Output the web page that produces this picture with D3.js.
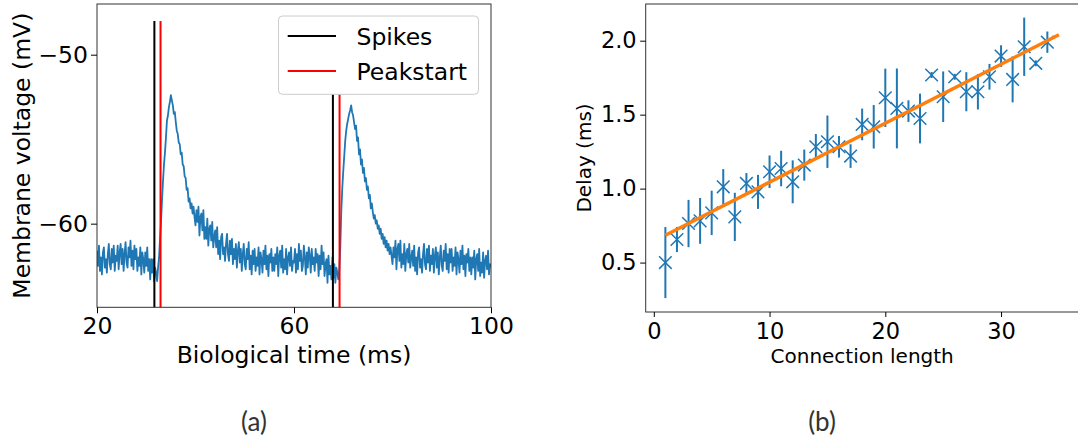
<!DOCTYPE html>
<html>
<head>
<meta charset="utf-8">
<script src="https://cdn.jsdelivr.net/npm/d3@7"></script>
<style>
    body { margin: 0; padding: 0; background: #fff; }
    svg { display: block; font-family: 'DejaVu Sans', sans-serif; }
</style>
</head>
<body>
<div id="main"></div>
<script>
// ---- panel (a): membrane voltage trace, one sample every 0.2 ms from 20 ms
const traceStart = 20;
const traceStep = 0.2;
const traceValues = [
    -61.6, -62.5, -61.3, -62.8, -62.0, -63.0, -61.7, -61.4, -62.6, -62.1, -62.9, -61.8, -61.2, -62.4, -62.7, -61.5, -62.3, -61.3, -62.8, -61.9,
    -62.2, -61.3, -62.7, -61.7, -61.2, -62.4, -61.5, -62.8, -61.8, -61.1, -62.3, -62.6, -61.4, -62.0, -61.0, -62.5, -61.6, -62.7, -61.3, -62.1,
    -61.5, -62.8, -62.0, -62.5, -61.4, -63.0, -61.7, -62.1, -62.9, -61.7, -62.5, -61.4, -62.8, -62.1, -63.3, -62.1, -62.9, -62.1, -63.4, -62.6,
    -62.9, -63.4, -62.6, -62.0, -60.9, -59.9, -58.6, -57.5, -56.5, -55.8, -54.9, -53.9, -53.6, -53.1, -52.8, -52.4, -52.7, -53.0, -53.5, -53.4,
    -54.0, -54.5, -54.7, -55.2, -55.3, -55.9, -55.8, -56.5, -56.6, -57.2, -57.3, -58.0, -57.9, -58.7, -58.5, -59.1, -58.8, -59.4, -59.0, -59.6,
    -60.1, -59.2, -59.9, -59.0, -60.7, -59.6, -59.4, -60.4, -59.2, -60.9, -60.2, -60.9, -59.7, -61.3, -60.3, -60.1, -61.0, -59.9, -61.4, -60.8,
    -60.4, -61.4, -60.2, -61.8, -61.0, -62.1, -60.8, -60.6, -61.8, -61.4, -62.2, -61.2, -60.6, -61.8, -62.2, -61.0, -61.8, -60.9, -62.4, -61.5,
    -62.1, -61.2, -62.6, -61.6, -61.1, -62.3, -61.5, -62.8, -61.8, -61.2, -62.4, -62.7, -61.5, -62.1, -61.1, -62.7, -61.9, -63.0, -61.6, -62.4,
    -61.5, -62.8, -62.0, -62.5, -61.4, -63.0, -61.7, -62.1, -62.9, -61.6, -62.4, -61.3, -62.7, -61.9, -63.1, -61.8, -62.3, -61.5, -62.8, -62.0,
    -62.8, -61.8, -62.4, -61.4, -63.1, -61.9, -61.6, -62.6, -61.3, -62.9, -62.1, -62.7, -61.5, -63.0, -62.0, -61.7, -62.5, -61.4, -62.8, -62.2,
    -62.3, -61.5, -62.9, -61.8, -62.7, -61.2, -62.2, -61.6, -62.8, -62.5, -61.3, -62.0, -63.0, -61.7, -62.6, -61.4, -61.9, -62.9, -61.5, -62.4,
    -62.0, -62.8, -61.5, -62.3, -61.8, -63.1, -61.9, -62.7, -61.3, -62.4, -61.7, -63.1, -62.4, -62.1, -63.5, -61.9, -63.0, -62.5, -63.3, -62.0,
    -63.2, -62.4, -63.5, -62.6, -62.9, -63.3, -62.7, -61.4, -59.3, -57.9, -56.9, -56.0, -55.1, -54.5, -54.1, -53.8, -53.5, -53.3, -53.0, -53.4,
    -53.6, -54.0, -54.4, -54.2, -55.1, -54.9, -55.9, -55.6, -56.5, -56.2, -57.0, -56.7, -57.5, -57.3, -58.0, -57.8, -58.5, -58.3, -59.1, -58.8,
    -59.3, -59.7, -59.5, -60.0, -59.8, -60.3, -60.1, -60.6, -60.3, -60.9, -60.6, -61.2, -60.8, -61.4, -61.0, -61.6, -61.2, -61.8, -61.4, -61.9,
    -62.4, -61.4, -62.0, -61.0, -62.7, -61.5, -61.2, -62.2, -61.0, -62.6, -61.8, -62.4, -61.2, -62.8, -61.8, -61.5, -62.3, -61.2, -62.6, -62.0,
    -61.6, -62.5, -61.3, -62.8, -62.0, -63.0, -61.7, -61.4, -62.6, -62.1, -62.9, -61.8, -61.2, -62.4, -62.7, -61.5, -62.3, -61.3, -62.8, -61.9,
    -62.4, -61.5, -62.9, -61.9, -61.4, -62.6, -61.7, -63.0, -62.0, -61.3, -62.5, -62.8, -61.6, -62.2, -61.2, -62.7, -61.8, -62.9, -61.5, -62.3,
    -61.5, -62.8, -62.0, -62.5, -61.4, -63.0, -61.7, -62.1, -62.9, -61.6, -62.4, -61.3, -62.7, -61.9, -63.1, -61.8, -62.3, -61.5, -62.8, -62.0,
    -63.0, -62.0, -62.6, -61.6, -63.3, -62.1, -61.8, -62.8, -61.5, -63.1, -62.3, -62.9, -61.7, -63.2, -62.2, -61.9, -62.7, -61.6, -63.0, -62.4,
    -62.6
];
const spikeTimes = [31.65, 67.9];
const peakStartTimes = [32.9, 69.25];
const traceXTicks = [20, 60, 100];
const traceYTicks = [-50, -60];
const legendLabels = ['Spikes', 'Peakstart'];

// ---- panel (b): delay vs connection length
const connLength = [1, 2, 3, 4, 5, 6, 7, 8, 9, 10, 11, 12, 13, 14, 15, 16, 17,
    18, 19, 20, 21, 22, 23, 24, 25, 26, 27, 28, 29, 30, 31, 32, 33, 34];
const delayMean = [0.50, 0.656, 0.764, 0.782, 0.836, 1.012, 0.809, 1.035, 0.978, 1.114, 1.136, 1.046, 1.159, 1.283, 1.317, 1.283, 1.220,
    1.434, 1.418, 1.614, 1.542, 1.524, 1.474, 1.768, 1.621, 1.756, 1.655, 1.655, 1.756, 1.896, 1.738, 1.959, 1.847, 1.99];
const delayErr = [0.24, 0.085, 0.16, 0.155, 0.15, 0.12, 0.163, 0.07, 0.115, 0.11, 0.12, 0.145, 0.105, 0.086, 0.177, 0.073, 0.08,
    0.107, 0.147, 0.197, 0.27, 0.073, 0.168, 0.02, 0.171, 0.02, 0.132, 0.12, 0.087, 0.073, 0.155, 0.197, 0.02, 0.072];
const fitX = [1, 35];
const fitY = [0.685, 2.04];
const delayXTicks = [0, 10, 20, 30];
const delayYTicks = [0.5, 1.0, 1.5, 2.0];

const BLUE = '#1f77b4';
const ORANGE = '#ff7f0e';

const svg = d3.select('#main').append('svg')
    .attr('width', 1078)
    .attr('height', 444);

const styleAxis = (g, size) => {
    g.attr('font-family', "'DejaVu Sans', sans-serif").attr('font-size', size);
    g.select('.domain').remove();
    g.selectAll('.tick line').attr('stroke', '#000').attr('stroke-width', 1);
    g.selectAll('.tick text').attr('fill', '#000');
};

// ================= panel (a)
const A = { left: 97, right: 491, top: 4, bottom: 307.3 };
const xA = d3.scaleLinear().domain([20, 100]).range([A.left, A.right]);
const yA = d3.scaleLinear().domain([-64.95, -47.0]).range([A.bottom, A.top]);

const traceData = traceValues.map((v, i) => [traceStart + i * traceStep, v]);

svg.append('clipPath').attr('id', 'clipA')
    .append('rect')
    .attr('x', A.left).attr('y', A.top)
    .attr('width', A.right - A.left).attr('height', A.bottom - A.top);

const plotA = svg.append('g').attr('clip-path', 'url(#clipA)');
plotA.append('path')
    .datum(traceData)
    .attr('fill', 'none')
    .attr('stroke', BLUE)
    .attr('stroke-width', 1.8)
    .attr('stroke-linejoin', 'round')
    .attr('d', d3.line().x(d => xA(d[0])).y(d => yA(d[1])));

const vlines = (times, color) => {
    plotA.selectAll(null).data(times).enter().append('line')
        .attr('x1', d => xA(d)).attr('x2', d => xA(d))
        .attr('y1', yA(-48.0)).attr('y2', yA(-66))
        .attr('stroke', color)
        .attr('stroke-width', 2);
};
vlines(spikeTimes, '#000');
vlines(peakStartTimes, '#ff0000');

svg.append('rect')
    .attr('x', A.left).attr('y', A.top)
    .attr('width', A.right - A.left).attr('height', A.bottom - A.top)
    .attr('fill', 'none').attr('stroke', '#333').attr('stroke-width', 1);

svg.append('g')
    .attr('transform', `translate(0, ${A.bottom})`)
    .call(d3.axisBottom(xA).tickValues(traceXTicks).tickSize(6).tickPadding(4).tickSizeOuter(0))
    .call(g => styleAxis(g, 23.5));
svg.append('g')
    .attr('transform', `translate(${A.left}, 0)`)
    .call(d3.axisLeft(yA).tickValues(traceYTicks).tickSize(6).tickPadding(3)
        .tickFormat(d => d3.format('d')(d)).tickSizeOuter(0))
    .call(g => styleAxis(g, 23.5));

svg.append('text')
    .text('Biological time (ms)')
    .attr('x', (A.left + A.right) / 2).attr('y', 362.5)
    .attr('text-anchor', 'middle').attr('font-size', 23.5);
svg.append('text')
    .text('Membrane voltage (mV)')
    .attr('transform', `translate(29.5, ${(A.top + A.bottom) / 2}) rotate(-90)`)
    .attr('text-anchor', 'middle').attr('font-size', 23.5);

// legend
const legend = svg.append('g');
legend.append('rect')
    .attr('x', 278.5).attr('y', 16)
    .attr('width', 200).attr('height', 78.3)
    .attr('rx', 4).attr('ry', 4)
    .attr('fill', '#fff').attr('stroke', '#cccccc').attr('stroke-width', 1);
const legendColors = ['#000', '#ff0000'];
legendLabels.forEach((lab, i) => {
    const y = 36 + i * 35;
    legend.append('line')
        .attr('x1', 287.7).attr('x2', 336)
        .attr('y1', y).attr('y2', y)
        .attr('stroke', legendColors[i]).attr('stroke-width', 2);
    legend.append('text')
        .text(lab)
        .attr('x', 356.5).attr('y', y + 8.8)
        .attr('font-size', 23.5);
});

// ================= panel (b)
const B = { left: 645.7, right: 1078.6, top: 4, bottom: 312 };
const xB = d3.scaleLinear().domain([-0.7, 36.7]).range([B.left, B.right]);
const yB = d3.scaleLinear().domain([0.166, 2.248]).range([B.bottom, B.top]);

const plotB = svg.append('g');
const points = connLength.map((x, i) => ({ x: x, y: delayMean[i], e: delayErr[i] }));

plotB.selectAll('.err').data(points).enter().append('line')
    .attr('class', 'err')
    .attr('x1', d => xB(d.x)).attr('x2', d => xB(d.x))
    .attr('y1', d => yB(d.y - d.e)).attr('y2', d => yB(d.y + d.e))
    .attr('stroke', BLUE).attr('stroke-width', 2);

const M = 6.3;
plotB.selectAll('.mark').data(points).enter().append('path')
    .attr('class', 'mark')
    .attr('d', d => {
        const cx = xB(d.x), cy = yB(d.y);
        return `M${cx - M},${cy - M}L${cx + M},${cy + M}M${cx - M},${cy + M}L${cx + M},${cy - M}`;
    })
    .attr('fill', 'none')
    .attr('stroke', BLUE).attr('stroke-width', 1.5);

plotB.append('path')
    .datum(fitX.map((x, i) => [x, fitY[i]]))
    .attr('fill', 'none')
    .attr('stroke', ORANGE)
    .attr('stroke-width', 3.5)
    .attr('d', d3.line().x(d => xB(d[0])).y(d => yB(d[1])));

svg.append('rect')
    .attr('x', B.left).attr('y', B.top)
    .attr('width', B.right - B.left).attr('height', B.bottom - B.top)
    .attr('fill', 'none').attr('stroke', '#333').attr('stroke-width', 1);

svg.append('g')
    .attr('transform', `translate(0, ${B.bottom})`)
    .call(d3.axisBottom(xB).tickValues(delayXTicks).tickSize(5).tickPadding(6.5).tickSizeOuter(0))
    .call(g => styleAxis(g, 22.5));
svg.append('g')
    .attr('transform', `translate(${B.left}, 0)`)
    .call(d3.axisLeft(yB).tickValues(delayYTicks).tickSize(5.5).tickPadding(3.5)
        .tickFormat(d3.format('.1f')).tickSizeOuter(0))
    .call(g => styleAxis(g, 22.5));

svg.append('text')
    .text('Connection length')
    .attr('x', (B.left + B.right) / 2).attr('y', 363)
    .attr('text-anchor', 'middle').attr('font-size', 20);
svg.append('text')
    .text('Delay (ms)')
    .attr('transform', `translate(591, ${(B.top + B.bottom) / 2}) rotate(-90)`)
    .attr('text-anchor', 'middle').attr('font-size', 20);

// ================= sub captions
svg.append('text')
    .text('(a)')
    .attr('x', 254).attr('y', 431)
    .attr('text-anchor', 'middle')
    .attr('font-family', 'Lato, sans-serif').attr('font-size', 26).attr('fill', '#333');
svg.append('text')
    .text('(b)')
    .attr('x', 822).attr('y', 431)
    .attr('text-anchor', 'middle')
    .attr('font-family', 'Lato, sans-serif').attr('font-size', 26).attr('fill', '#333');
</script>
</body>
</html>
